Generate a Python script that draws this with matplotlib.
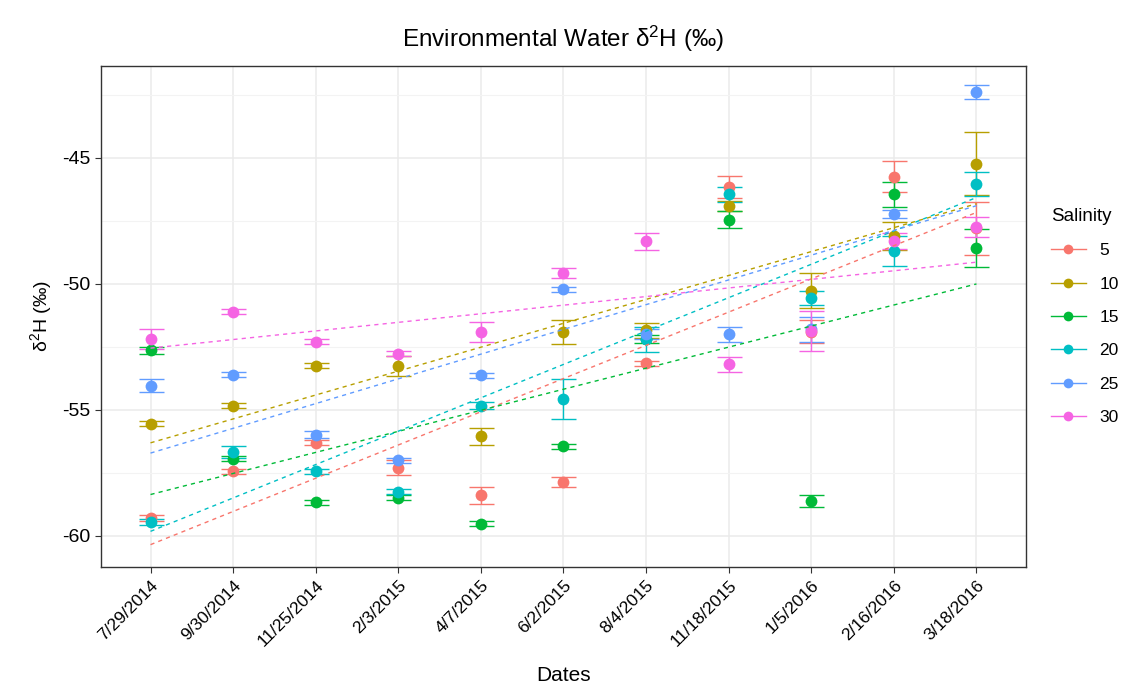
"""Environmental water deuterium by salinity treatment, with per-group linear trends."""

import matplotlib
matplotlib.use('Agg')
import matplotlib.pyplot as plt
from matplotlib.lines import Line2D
import numpy as np

DATES = ['7/29/2014', '9/30/2014', '11/25/2014', '2/3/2015', '4/7/2015', '6/2/2015',
         '8/4/2015', '11/18/2015', '1/5/2016', '2/16/2016', '3/18/2016']
SALINITY = ['5', '10', '15', '20', '25', '30']
COLORS = ['#F8766D', '#B79F00', '#00BA38', '#00BFC4', '#619CFF', '#F564E3']

# mean d2H per salinity group, one value per sampling date
d2h_5 = [-59.3, -57.45, -56.32, -57.31, -58.41, -57.88, -53.15, -46.15, -51.9, -45.74, -47.8]
d2h_10 = [-55.56, -54.84, -53.25, -53.28, -56.06, -51.92, -51.85, -46.9, -50.27, -48.1, -45.24]
d2h_15 = [-52.65, -56.96, -58.68, -58.5, -59.54, -56.45, -52.2, -47.45, -58.63, -46.44, -48.58]
d2h_20 = [-59.45, -56.69, -57.45, -58.27, -54.84, -54.57, -52.2, -46.45, -50.57, -48.7, -46.05]
d2h_25 = [-54.05, -53.61, -55.99, -57.02, -53.64, -50.21, -52.0, -52.0, -51.8, -47.22, -42.39]
d2h_30 = [-52.19, -51.12, -52.31, -52.78, -51.92, -49.58, -48.32, -53.2, -51.87, -48.3, -47.75]

# standard errors
se_5 = [0.12, 0.1, 0.1, 0.3, 0.35, 0.2, 0.1, 0.45, 0.45, 0.62, 1.05]
se_10 = [0.1, 0.1, 0.1, 0.4, 0.34, 0.48, 0.3, 0.2, 0.7, 0.55, 1.25]
se_15 = [0.12, 0.1, 0.1, 0.1, 0.1, 0.1, 0.15, 0.35, 0.25, 0.5, 0.75]
se_20 = [0.12, 0.25, 0.1, 0.1, 0.15, 0.8, 0.5, 0.3, 0.27, 0.6, 0.48]
se_25 = [0.25, 0.1, 0.15, 0.1, 0.1, 0.1, 0.2, 0.3, 0.5, 0.15, 0.27]
se_30 = [0.4, 0.1, 0.1, 0.1, 0.4, 0.2, 0.33, 0.3, 0.8, 0.3, 0.4]

MEANS = [d2h_5, d2h_10, d2h_15, d2h_20, d2h_25, d2h_30]
ERRS = [se_5, se_10, se_15, se_20, se_25, se_30]

plt.rcParams['font.family'] = ['Liberation Sans', 'DejaVu Sans']
plt.rcParams['mathtext.default'] = 'regular'
plt.rcParams['axes.unicode_minus'] = False

fig = plt.figure(figsize=(11.33, 6.9), dpi=100)
ax = fig.add_axes([0.0891, 0.1783, 0.8165, 0.726])

x = np.arange(1, len(DATES) + 1)
for means, errs, color in zip(MEANS, ERRS, COLORS):
    ax.errorbar(x, means, yerr=errs, fmt='none', ecolor=color, elinewidth=1.0,
                capsize=9, capthick=1.0, zorder=3)
    ax.plot(x, means, 'o', color=color, ms=8.5, mec='none', zorder=4)
    slope, intercept = np.polyfit(x, means, 1)
    ax.plot(x, slope * x + intercept, color=color, lw=1.0, ls=(0, (3, 3)), zorder=5)

ax.set_xlim(0.4, 11.6)
ax.set_ylim(-61.25, -41.35)
ax.set_xticks(x)
ax.set_xticklabels(DATES, rotation=45, ha='right', rotation_mode='anchor')
ax.set_yticks([-60, -55, -50, -45])
ax.set_yticks([-57.5, -52.5, -47.5, -42.5], minor=True)
ax.tick_params(axis='both', which='major', labelsize=14, colors='#333333', length=4,
               width=0.8, labelcolor='black')
ax.tick_params(axis='x', labelsize=12.5)
ax.tick_params(axis='y', which='minor', length=0)
ax.grid(True, which='major', color='#EBEBEB', lw=1.1, zorder=0)
ax.grid(True, which='minor', axis='y', color='#F3F3F3', lw=0.8, zorder=0)
ax.set_axisbelow(True)
for spine in ax.spines.values():
    spine.set_color('#333333')
    spine.set_linewidth(1.0)

ax.set_xlabel('Dates', fontsize=15, labelpad=12)
ax.set_ylabel('δ$^{2}$H (‰)', fontsize=14, labelpad=6)
ax.set_title('Environmental Water δ$^{2}$H (‰)', fontsize=17.5, pad=14)

handles = [Line2D([], [], color=c, marker='o', ms=7, lw=1.0, mec='none') for c in COLORS]
leg = ax.legend(handles, SALINITY, title='Salinity', loc='center left',
                bbox_to_anchor=(1.01, 0.5), frameon=False, fontsize=12.5,
                title_fontsize=13.5, handlelength=2.0, labelspacing=1.05,
                borderaxespad=0.5)
leg._legend_box.align = 'left'

fig.savefig('out.png', dpi=100)
